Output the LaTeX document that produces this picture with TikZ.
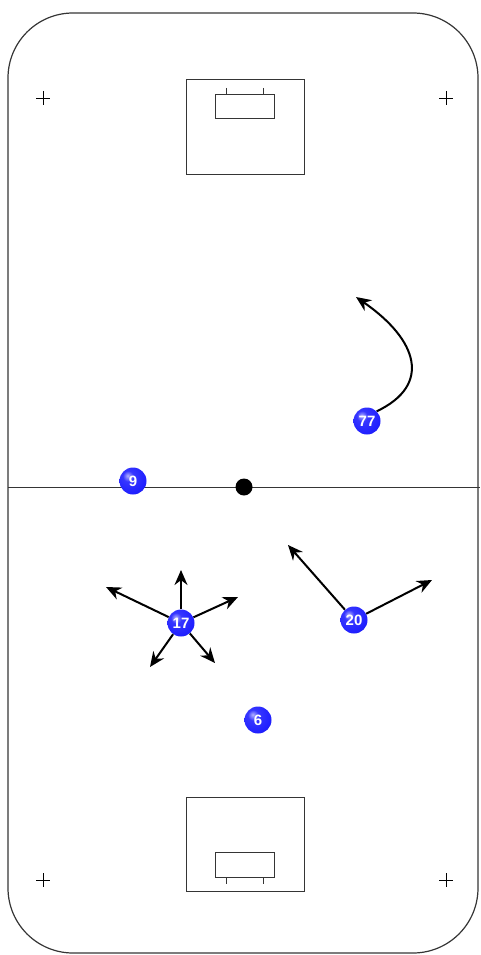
\documentclass[tikz,border=0pt]{standalone}
\usepackage{fontspec}
\setmainfont{Liberation Sans}
\usepackage{tikz}
\usetikzlibrary{arrows.meta,positioning,calc}
\definecolor{rkInk}{HTML}{111111}
\definecolor{rkBall}{HTML}{2020FF}
\pgfdeclareradialshading{plball}{\pgfpoint{-10bp}{10bp}}{%
  color(0bp)=(rkBall!35!white); color(10bp)=(rkBall!90!white);
  color(30bp)=(rkBall); color(46bp)=(rkBall!80!black);
  color(60bp)=(rkBall!45!black); color(100bp)=(rkBall!45!black)}
\tikzset{
  rink/.style={draw=rkInk!85,line width=1.2pt},
  rline/.style={draw=rkInk!85,line width=1pt},
  plyr/.style={circle,shading=plball,minimum size=27pt,
    inner sep=0pt,font=\bfseries\fontsize{15}{15}\selectfont,text=white},
  arr/.style={-{Stealth[length=15pt,width=13pt]},line width=2pt,color=black},
  crossln/.style={line width=0.9pt},
}
\begin{document}
\begin{tikzpicture}[x=1pt,y=-1pt]
  \useasboundingbox (0,0) rectangle (480,955);

  % rink outline and center line
  \draw[rink,rounded corners=65pt] (8,13) rectangle (478,953);
  \draw[rline] (8,487) -- (480,487);
  \fill (244,487) circle (8.5);

  % goal areas
  \draw[rline] (186,80) rectangle (304,174);
  \draw[rline] (215,95) rectangle (274,119);
  \draw[rline] (226,88) -- (226,95) (263,88) -- (263,95);
  \draw[rline] (186,797) rectangle (304,891);
  \draw[rline] (215,852) rectangle (274,877);
  \draw[rline] (226,877) -- (226,884) (263,877) -- (263,884);

  % faceoff crosses
  \foreach \cx/\cy in {43/98,446/98,43/880,446/880}
    \draw[crossln] (\cx-7,\cy) -- (\cx+7,\cy) (\cx,\cy-7) -- (\cx,\cy+7);

  % players
  \node[plyr] (p9)  at (133,481) {9};
  \node[plyr] (p77) at (367,421) {77};
  \node[plyr] (p17) at (181,623) {17};
  \node[plyr] (p20) at (354,620) {20};
  \node[plyr] (p6)  at (258,720) {6};

  \coordinate (a1) at (106,587);
  \coordinate (a2) at (181,570);
  \coordinate (a3) at (238,597);
  \coordinate (a4) at (150,667);
  \coordinate (a5) at (215,663);
  \coordinate (b1) at (288,545);
  \coordinate (b2) at (432,580);
  \coordinate (c1) at (356,297);

  \foreach \to in {a1,a2,a3,a4,a5}
    \draw[arr] (p17) -- (\to);
  \foreach \to in {b1,b2}
    \draw[arr] (p20) -- (\to);
  \draw[arr] (p77.north east) .. controls (432,385) and (418,340) .. (c1);

\end{tikzpicture}
\end{document}
